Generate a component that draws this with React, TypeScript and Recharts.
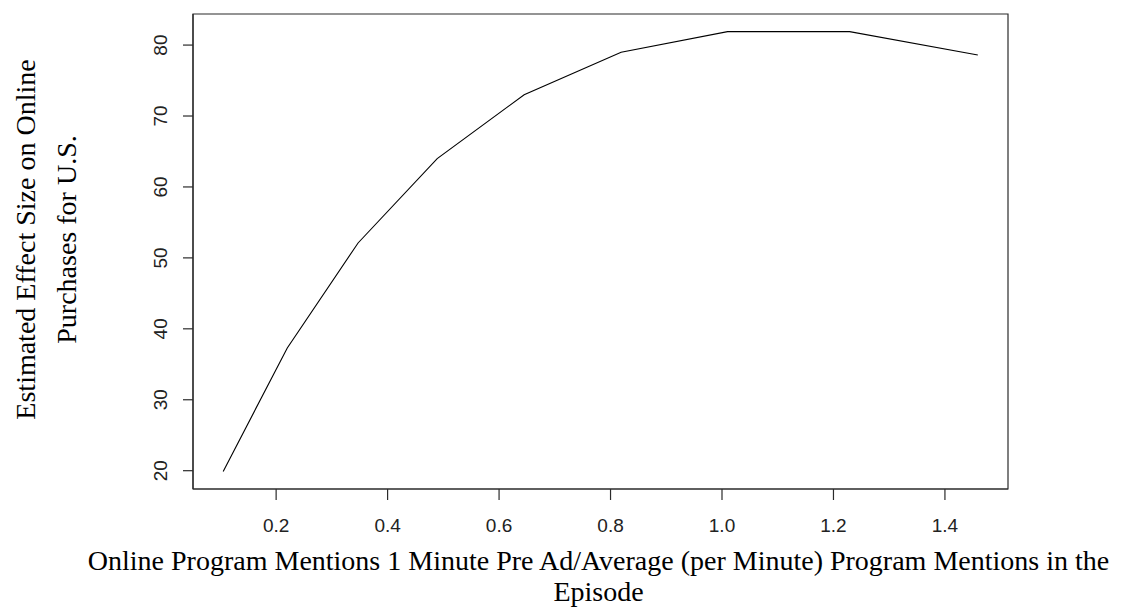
import React from 'react';
import { LineChart, Line, XAxis, YAxis, Label, ReferenceArea } from 'recharts';

// Ratio of online program mentions 1 minute before the ad to the episode's per-minute average
const mentionRatio = [0.105, 0.22, 0.347, 0.489, 0.645, 0.819, 1.01, 1.229, 1.459];
// Estimated effect size on online purchases (U.S.)
const effectSize = [19.9, 37.3, 52.1, 64.0, 73.0, 79.0, 81.9, 81.9, 78.6];

const xTicks = [0.2, 0.4, 0.6, 0.8, 1.0, 1.2, 1.4];
const yTicks = [20, 30, 40, 50, 60, 70, 80];

const xTitle = [
  'Online Program Mentions 1 Minute Pre Ad/Average (per Minute) Program Mentions in the',
  'Episode',
];
const yTitle = ['Estimated Effect Size on Online', 'Purchases for U.S.'];

const data = mentionRatio.map((x, i) => ({ x, y: effectSize[i] }));

// Axis range extended by 4% on each side of the data range
const padded = (vals: number[]): [number, number] => {
  const lo = Math.min(...vals);
  const hi = Math.max(...vals);
  const r = (hi - lo) * 0.04;
  return [lo - r, hi + r];
};
const xDomain = padded(mentionRatio);
const yDomain = padded(effectSize);

const AXIS = '#2b2b2b';
const TICK_FONT = '"Liberation Sans", Arial, sans-serif';
const TITLE_FONT = '"Liberation Serif", "Times New Roman", serif';

const XTick = (props: any) => {
  const { x, y, payload } = props;
  return (
    <text x={x} y={y + 32} textAnchor="middle" fontFamily={TICK_FONT} fontSize={19} fill="#222">
      {Number(payload.value).toFixed(1)}
    </text>
  );
};

const YTick = (props: any) => {
  const { x, y, payload } = props;
  const bx = x - 16;
  return (
    <text
      x={bx}
      y={y}
      transform={`rotate(-90, ${bx}, ${y})`}
      textAnchor="middle"
      fontFamily={TICK_FONT}
      fontSize={19}
      fill="#222"
    >
      {payload.value}
    </text>
  );
};

const XTitle = (props: any) => {
  const vb = props.viewBox || { x: 193, y: 489, width: 815 };
  const cx = vb.x + vb.width / 2 - 2;
  return (
    <text textAnchor="middle" fontFamily={TITLE_FONT} fontSize={28} fill="#000">
      <tspan x={cx} y={vb.y + 81}>{xTitle[0]}</tspan>
      <tspan x={cx} y={vb.y + 112}>{xTitle[1]}</tspan>
    </text>
  );
};

const YTitle = (props: any) => {
  const vb = props.viewBox || { x: 0, y: 14, height: 475 };
  const cy = vb.y + vb.height / 2 - 12;
  return (
    <g fontFamily={TITLE_FONT} fontSize={28} fill="#000">
      <text x={35} y={cy} transform={`rotate(-90, 35, ${cy})`} textAnchor="middle">
        {yTitle[0]}
      </text>
      <text x={76} y={cy} transform={`rotate(-90, 76, ${cy})`} textAnchor="middle">
        {yTitle[1]}
      </text>
    </g>
  );
};

export default function App() {
  return (
    <div style={{ position: 'absolute', left: 0, top: 0, background: '#fff' }}>
      <LineChart
        width={1133}
        height={615}
        data={data}
        margin={{ top: 14, right: 125, bottom: 0, left: 0 }}
      >
        <XAxis
          dataKey="x"
          type="number"
          domain={xDomain}
          ticks={xTicks}
          allowDataOverflow
          height={126}
          tickSize={11}
          tickMargin={0}
          tickLine={{ stroke: AXIS, strokeWidth: 1.2 }}
          axisLine={{ stroke: AXIS, strokeWidth: 1.2 }}
          tick={<XTick />}
        >
          <Label content={<XTitle />} />
        </XAxis>
        <YAxis
          type="number"
          domain={yDomain}
          ticks={yTicks}
          allowDataOverflow
          width={193}
          tickSize={10}
          tickMargin={0}
          tickLine={{ stroke: AXIS, strokeWidth: 1.2 }}
          axisLine={{ stroke: AXIS, strokeWidth: 1.2 }}
          tick={<YTick />}
        >
          <Label content={<YTitle />} />
        </YAxis>
        {/* plot frame */}
        <ReferenceArea
          x1={xDomain[0]}
          x2={xDomain[1]}
          y1={yDomain[0]}
          y2={yDomain[1]}
          fill="none"
          fillOpacity={0}
          stroke={AXIS}
          strokeWidth={1.2}
          ifOverflow="visible"
        />
        <Line
          type="linear"
          dataKey="y"
          stroke="#000"
          strokeWidth={1.1}
          dot={false}
          activeDot={false}
          isAnimationActive={false}
        />
      </LineChart>
    </div>
  );
}
